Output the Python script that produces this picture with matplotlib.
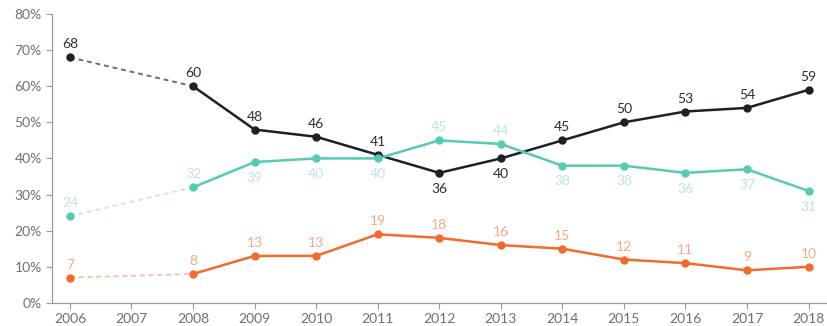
import numpy as np
import matplotlib.pyplot as plt

plt.rcParams['font.family'] = ['Lato', 'DejaVu Sans']

years = [2006, 2008, 2009, 2010, 2011, 2012, 2013, 2014, 2015, 2016, 2017, 2018]
black = [68, 60, 48, 46, 41, 36, 40, 45, 50, 53, 54, 59]
teal = [24, 32, 39, 40, 40, 45, 44, 38, 38, 36, 37, 31]
orange = [7, 8, 13, 13, 19, 18, 16, 15, 12, 11, 9, 10]

# label above (+1) or below (-1) the point
black_pos = [1, 1, 1, 1, 1, -1, -1, 1, 1, 1, 1, 1]
teal_pos = [1, 1, -1, -1, -1, 1, 1, -1, -1, -1, -1, -1]
orange_pos = [1] * 12

xticks = list(range(2006, 2019))
yticks = [0, 10, 20, 30, 40, 50, 60, 70, 80]

fig = plt.figure(figsize=(8.27, 3.26), dpi=100)
ax = fig.add_axes([0.063, 0.071, 0.937, 0.886])

series = [
    (black, black_pos, '#1b2029', '#6b6e75', '#2b2f36'),
    (teal, teal_pos, '#55cbb3', '#c8ece4', '#bde6dc'),
    (orange, orange_pos, '#f26a2c', '#f8c2a8', '#f5a986'),
]

for vals, pos, col, dashcol, labcol in series:
    ax.plot(years[:2], vals[:2], color=dashcol, lw=1.4, ls=(0, (2.5, 2)), zorder=2)
    ax.plot(years[1:], vals[1:], color=col, lw=1.8, zorder=3)
    ax.plot(years, vals, 'o', color=col, ms=5, zorder=4)
    for x, v, p in zip(years, vals, pos):
        off = 5 if p > 0 else -7
        ax.annotate(str(v), (x, v), xytext=(0, off), textcoords='offset points',
                    ha='center', va='bottom' if p > 0 else 'top',
                    fontsize=10, color=labcol)

ax.set_xlim(2005.71, 2018.3)
ax.set_ylim(0, 80)
ax.set_xticks(xticks)
ax.set_yticks(yticks)
ax.set_yticklabels([f'{t}%' for t in yticks])
for s in ['top', 'right']:
    ax.spines[s].set_visible(False)
for s in ['left', 'bottom']:
    ax.spines[s].set_color('#9a9a9a')
    ax.spines[s].set_linewidth(0.9)
ax.tick_params(colors='#9a9a9a', labelcolor='#707070', labelsize=10, length=4, width=0.8)

plt.savefig('out.png', dpi=100)
